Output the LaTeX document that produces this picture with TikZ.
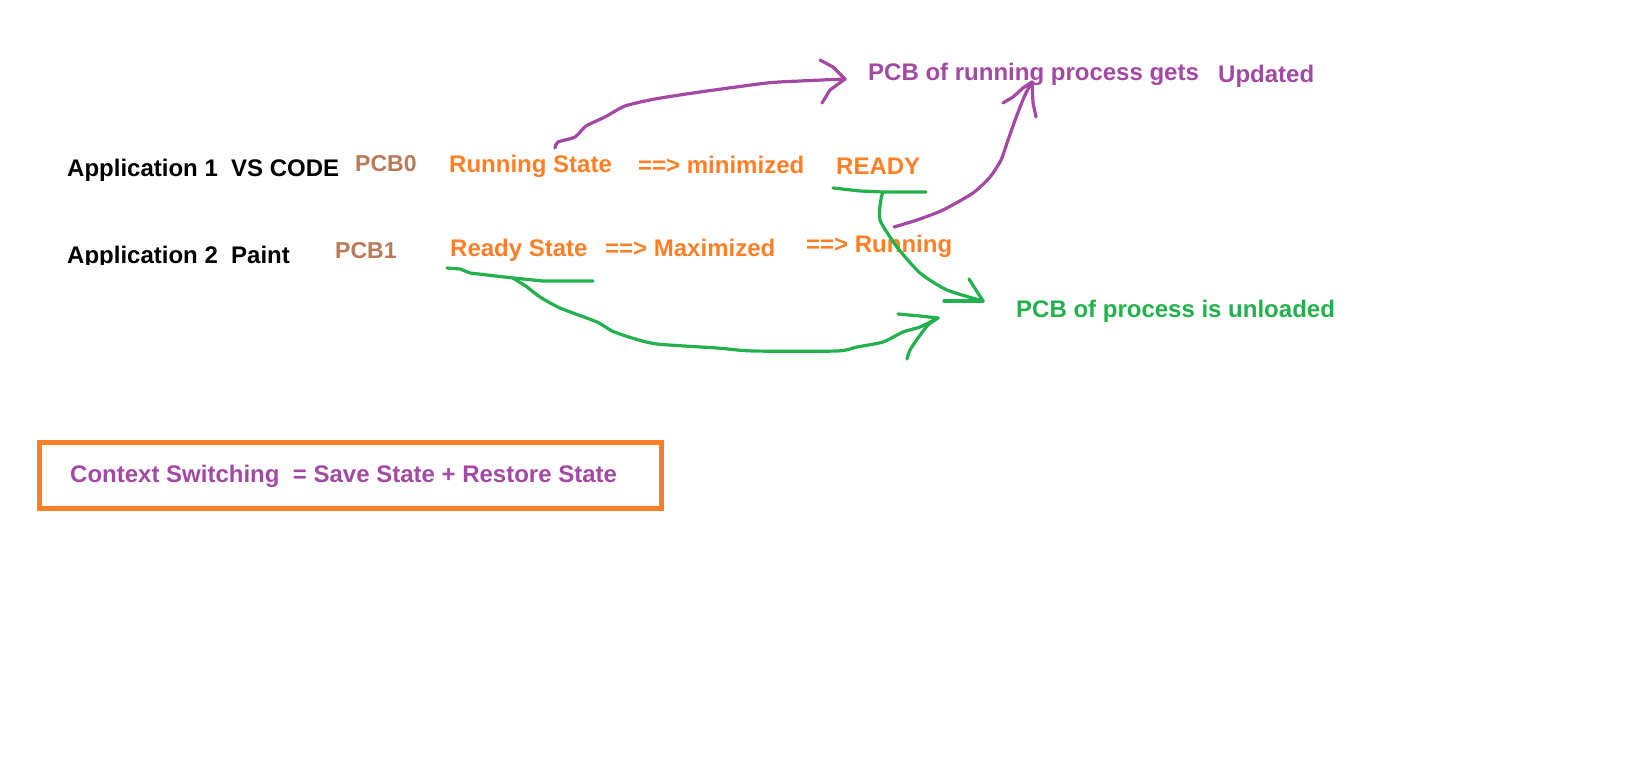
\documentclass[tikz,border=0pt]{standalone}
\usepackage{fontspec}
\setmainfont{Liberation Sans}
\definecolor{pbrown}{HTML}{B97A57}
\definecolor{porange}{HTML}{FF7F27}
\definecolor{ppurple}{HTML}{A349A4}
\definecolor{pgreen}{HTML}{22B14C}
\begin{document}
\begin{tikzpicture}[x=1pt,y=-1pt,
  txt/.style={anchor=base west, inner sep=0pt, font=\bfseries\fontsize{24}{28}\selectfont},
  pcbtxt/.style={txt, text=pbrown, font=\bfseries\fontsize{23}{28}\selectfont},
  otxt/.style={txt, text=porange},
  stroke/.style={line width=3.2pt, line cap=round, line join=round},
  pstroke/.style={stroke, draw=ppurple},
  gstroke/.style={stroke, draw=pgreen},
  framebox/.style={draw=porange, line width=5pt, anchor=north west, inner sep=0pt,
    minimum width=622pt, minimum height=66pt}
]
\useasboundingbox[fill=white] (0,0) rectangle (1634,762);

% row 1
\node[txt] (app1) at (67,177) {Application 1\ \ VS CODE};
\node[pcbtxt] (pcb0) at (355,172) {PCB0};
\node[otxt] (run) at (449,173) {Running State};
\node[otxt] (min) at (638,174) {==> minimized};
\node[otxt] (ready) at (836,175) {READY};

% row 2 (bottom of first label cut off)
\begin{scope}
  \clip (0,200) rectangle (320,264.5);
  \node[txt] (app2) at (67,264) {Application 2\ \ Paint};
\end{scope}
\node[pcbtxt] (pcb1) at (335,259) {PCB1};
\node[otxt] (rst) at (450,257) {Ready State};
\node[otxt] (max) at (605,257) {==> Maximized};
\node[otxt] (running) at (806,253) {==> Running};

% right texts
\node[txt, text=ppurple] (upd1) at (868,81) {PCB of running process gets};
\node[txt, text=ppurple] (upd2) at (1218,83) {Updated};
\node[txt, text=pgreen] (unl) at (1016,317) {PCB of process is unloaded};

% box
\node[framebox] (box) at (36.5,439.5) {};
\node[txt, text=ppurple] (cs) at (70,482) {Context Switching\ \ = Save State + Restore State};

% tips
\coordinate (t1) at (845,79);
\coordinate (t2) at (1032,82);
\coordinate (t3) at (983,301);
\coordinate (t4) at (938,318);

% purple arrow 1
\draw[pstroke] plot[smooth, tension=0.4] coordinates {(555,148) (558,142) (575,137) (586,126) (605,117) (625,106) (655,99) (700,92) (767,83) (800,81) (t1)};
\draw[pstroke] (820,60) -- (833,67) -- (t1);
\draw[pstroke] (822,103) -- (830,90) -- (t1);

% purple arrow 2
\draw[pstroke] plot[smooth, tension=0.4] coordinates {(894,227) (917,220) (943,210) (973,193) (990,177) (1001,160) (1008,140) (1017,115) (1025,95) (t2)};
\draw[pstroke] (1003,103) -- (1013,97) -- (1023,88) -- (t2);
\draw[pstroke] (1036,117) -- (1033,103) -- (t2);

% green arrow from READY
\draw[gstroke] (833,188) -- (860,191) -- (883,192) -- (926,192);
\draw[gstroke] plot[smooth, tension=0.4] coordinates {(883,192) (881,199) (880,220) (897,247) (920,273) (947,290) (t3)};
\draw[gstroke] (969,279) -- (t3);
\draw[gstroke] (944,301) -- (t3);

% green arrow from Ready State
\draw[gstroke] (447,268) -- (460,269) -- (470,273) -- (513,278) -- (543,281) -- (593,281);
\draw[gstroke] plot[smooth, tension=0.4] coordinates {(513,278) (527,287) (540,297) (560,308) (597,322) (612,331) (632,338) (657,344) (717,348) (753,351) (837,351) (857,347) (883,342) (903,332) (920,327) (t4)};
\draw[gstroke] (898,314) -- (920,316) -- (t4);
\draw[gstroke] plot[smooth, tension=0.4] coordinates {(907,359) (910,350) (918,338) (928,325) (t4)};
\end{tikzpicture}
\end{document}
